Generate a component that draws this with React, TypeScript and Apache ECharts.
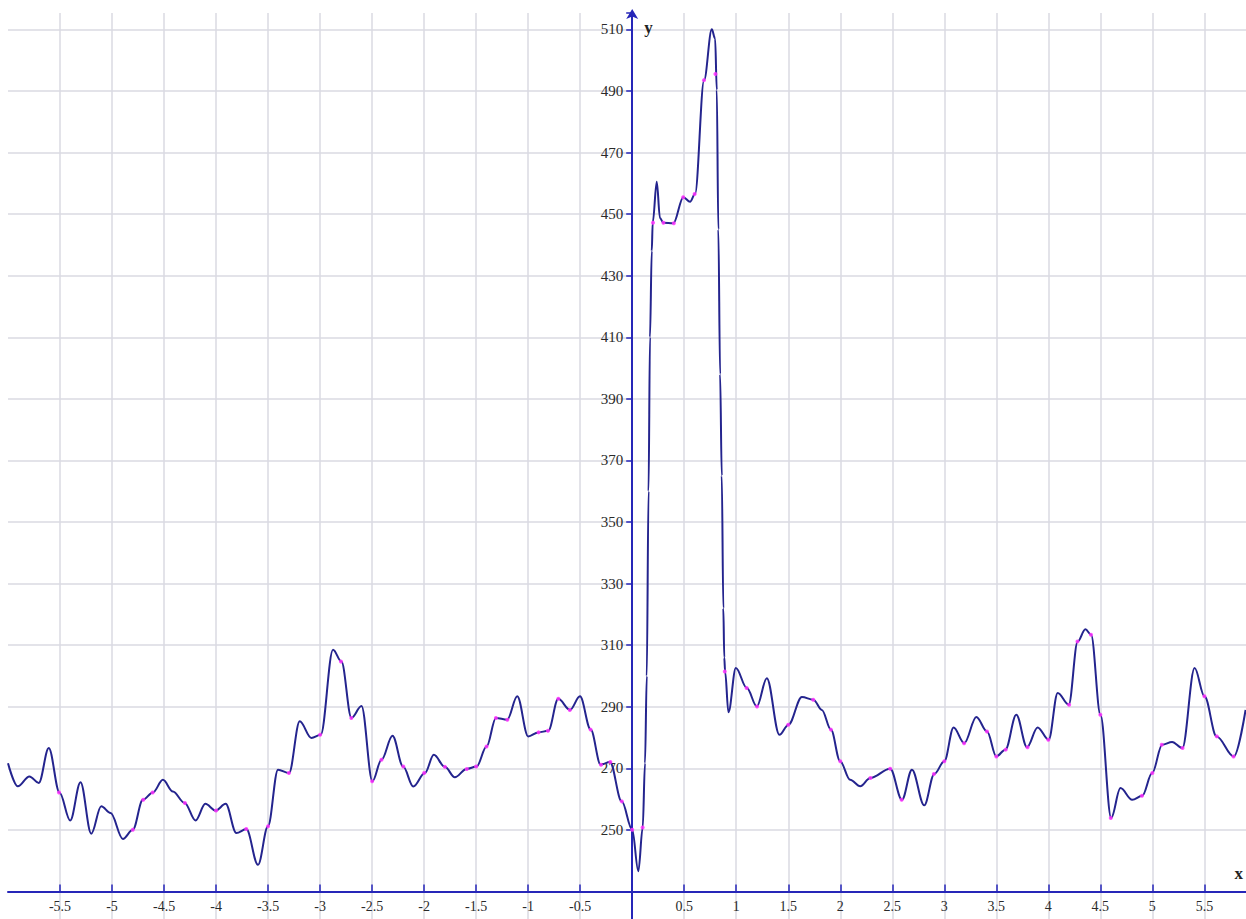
import { useEffect, useRef } from "react";
import * as echarts from "echarts";

// Traced curve (x, y): smooth path through the sampled signal, including its overshoots
const curveX = [
  -6.0, -5.906, -5.794, -5.704, -5.608, -5.505, -5.402, -5.303, -5.2, -5.104, -5.014,
  -4.896, -4.8, -4.704, -4.607, -4.511, -4.415, -4.302, -4.197, -4.103, -4.004, -3.908,
  -3.805, -3.709, -3.597, -3.501, -3.405, -3.299, -3.196, -3.084, -2.994, -2.876, -2.795,
  -2.699, -2.602, -2.497, -2.41, -2.304, -2.202, -2.104, -1.993, -1.907, -1.8, -1.705,
  -1.592, -1.496, -1.4, -1.31, -1.202, -1.105, -1.0, -0.903, -0.807, -0.711, -0.598,
  -0.502, -0.399, -0.303, -0.214, -0.101, 0.0, 0.059, 0.101, 0.123, 0.14, 0.157, 0.171,
  0.188, 0.197, 0.236, 0.267, 0.299, 0.395, 0.492, 0.556, 0.604, 0.691, 0.765, 0.797,
  0.813, 0.828, 0.845, 0.861, 0.876, 0.885, 0.893, 0.925, 0.996, 1.102, 1.198, 1.294,
  1.415, 1.502, 1.631, 1.742, 1.823, 1.91, 1.999, 2.095, 2.192, 2.288, 2.48, 2.593,
  2.689, 2.807, 2.904, 3.0, 3.089, 3.192, 3.308, 3.411, 3.5, 3.587, 3.692, 3.795, 3.897,
  4.003, 4.09, 4.196, 4.282, 4.356, 4.411, 4.501, 4.604, 4.693, 4.806, 4.902, 4.998,
  5.094, 5.19, 5.288, 5.406, 5.501, 5.617, 5.783, 5.896,
];
const curveY = [
  271.7, 264.2, 267.4, 265.3, 276.6, 262.2, 253.1, 265.5, 248.8, 257.7, 255.5,
  247.1, 250.1, 259.8, 262.2, 266.3, 262.5, 258.8, 253.1, 258.5, 256.3, 258.5,
  249.0, 250.3, 238.7, 251.2, 269.6, 268.5, 285.3, 279.9, 280.9, 308.5, 304.7,
  286.4, 290.3, 265.8, 272.8, 280.6, 270.6, 264.1, 268.5, 274.4, 270.5, 267.1,
  269.8, 270.6, 277.1, 286.4, 285.8, 293.4, 280.4, 281.7, 282.2, 292.6, 289.0,
  293.4, 282.6, 271.2, 272.1, 259.3, 250.1, 236.6, 250.8, 271.7, 300.0, 360.0, 410.0,
  438.0, 447.2, 460.5, 448.7, 447.2, 447.0, 455.5, 454.0, 456.5, 493.5, 510.0, 507.0,
  490.3, 445.0, 398.0, 365.0, 322.0, 306.0, 301.5, 288.2, 302.6, 296.1, 290.1, 299.3,
  280.9, 284.2, 293.2, 292.3, 289.0, 282.6, 272.3, 266.3, 264.2, 266.9, 269.9, 259.8,
  269.6, 258.0, 268.2, 272.3, 283.3, 278.2, 286.7, 282.0, 273.9, 276.1, 287.4, 276.9, 283.3,
  279.3, 294.5, 290.7, 311.2, 315.2, 313.4, 287.4, 253.9, 263.6, 259.8, 261.1, 268.5,
  277.7, 278.6, 276.6, 302.6, 293.4, 280.4, 273.9, 289.0,
];

// Measured samples (magenta dots)
const sampleX = [
  -5.51, -4.8, -4.7, -4.61, -4.3, -4.0, -3.71, -3.5, -3.3, -3.0, -2.8, -2.7, -2.5, -2.41,
  -2.2, -2.0, -1.8, -1.59, -1.5, -1.4, -1.31, -1.2, -0.9, -0.81, -0.71, -0.6, -0.4, -0.3,
  -0.21, -0.1, 0.0, 0.1, 0.2, 0.3, 0.4, 0.49, 0.6, 0.69, 0.8, 0.89, 1.1, 1.2, 1.5, 1.74,
  1.91, 2.0, 2.29, 2.48, 2.59, 2.9, 3.0, 3.19, 3.41, 3.5, 3.59, 3.8, 4.0, 4.2, 4.28, 4.41,
  4.5, 4.6, 4.9, 5.0, 5.09, 5.29, 5.5, 5.62, 5.78,
];
const sampleY = [
  262.2, 250.1, 259.8, 262.2, 258.8, 256.3, 250.3, 251.2, 268.5, 280.9, 304.7, 286.4, 265.8, 272.8,
  270.6, 268.5, 270.5, 269.8, 270.6, 277.1, 286.4, 285.8, 281.7, 282.2, 292.6, 289.0, 282.6, 271.2,
  272.1, 259.3, 250.1, 250.8, 447.2, 447.2, 447.0, 455.5, 456.5, 493.5, 495.5, 301.5, 296.1, 290.1, 284.2, 292.3,
  282.6, 272.3, 266.9, 269.9, 259.8, 268.2, 272.3, 278.2, 282.0, 273.9, 276.1, 276.9, 279.3, 290.7, 311.2, 313.4,
  287.4, 253.9, 261.1, 268.5, 277.7, 276.6, 293.4, 280.4, 273.9,
];

// Axis ranges and tick spacing
const xRange = [-6, 5.9];
const xStep = 0.5;
const yRange = [210, 515.3];
const yStep = 20;
const xAxisCrossing = 230; // the x axis is drawn at y = 230
const yAxisCrossing = 0; // the y axis is drawn at x = 0
const yLabelRange = [250, 510];

const AXIS_BLUE = "#2626b8";
const CURVE_BLUE = "#24248e";
const GRID_GRAY = "#dadae2";
const FONT = "'Liberation Serif', 'Times New Roman', serif";

export default function App() {
  const ref = useRef<HTMLDivElement>(null);

  useEffect(() => {
    if (!ref.current) return;
    const chart = echarts.init(ref.current, undefined, { renderer: "svg" });

    const width = 1246;
    const height = 919;
    const gridTop = 13;
    const gridLeft = 8;
    const gridRight = 0;
    // the visible plot ends at the page bottom (y ≈ 221) while the axis minimum sits below it
    const visibleBottomValue = 221.1;
    const fullH = (height - gridTop) * (yRange[1] - yRange[0]) / (yRange[1] - visibleBottomValue);
    const gridBottom = height - gridTop - fullH;
    const pxPerY = fullH / (yRange[1] - yRange[0]);
    const pxPerX = (width - gridLeft - gridRight) / (xRange[1] - xRange[0]);
    // shift each axis from the grid edge to where it crosses the other one
    const xAxisOffset = -(xAxisCrossing - yRange[0]) * pxPerY;
    const yAxisOffset = -(yAxisCrossing - xRange[0]) * pxPerX;

    const curve = curveX.map((x, i) => [x, curveY[i]]);
    const samples = sampleX.map((x, i) => [x, sampleY[i]]);

    chart.setOption({
      animation: false,
      backgroundColor: "#ffffff",
      grid: {
        left: gridLeft,
        right: gridRight,
        top: gridTop,
        bottom: gridBottom,
        containLabel: false,
        outerBoundsMode: "none",
      },
      xAxis: {
        type: "value",
        min: xRange[0],
        max: xRange[1],
        interval: xStep,
        position: "bottom",
        offset: xAxisOffset,
        axisLine: {
          onZero: false,
          lineStyle: { color: AXIS_BLUE, width: 2 },
        },
        axisTick: { show: true, inside: true, length: 7, lineStyle: { color: AXIS_BLUE, width: 1.5 } },
        axisLabel: {
          showMinLabel: false,
          showMaxLabel: false,
          margin: 8,
          color: "#2a2a2a",
          fontFamily: FONT,
          fontSize: 14,
          formatter: (v: number) => (Math.abs(v) < 1e-9 ? "" : String(v)),
        },
        splitLine: {
          show: true,
          showMinLine: false,
          showMaxLine: false,
          lineStyle: { color: GRID_GRAY, width: 1.5 },
        },
      },
      yAxis: {
        type: "value",
        min: yRange[0],
        max: yRange[1],
        interval: yStep,
        position: "left",
        offset: yAxisOffset,
        axisLine: {
          onZero: false,
          lineStyle: { color: AXIS_BLUE, width: 2 },
          symbol: ["none", "arrow"],
          symbolSize: [9, 10],
          symbolOffset: [0, 4],
        },
        axisTick: { show: true, length: 6, lineStyle: { color: AXIS_BLUE, width: 1.5 } },
        axisLabel: {
          margin: 9,
          color: "#2a2a2a",
          fontFamily: FONT,
          fontSize: 15,
          formatter: (v: number) =>
            v >= yLabelRange[0] && v <= yLabelRange[1] ? String(v) : "",
        },
        splitLine: {
          show: true,
          showMinLine: false,
          showMaxLine: false,
          lineStyle: { color: GRID_GRAY, width: 1.5 },
        },
      },
      series: [
        {
          name: "signal",
          type: "line",
          data: curve,
          smooth: 0.35,
          smoothMonotone: "x",
          showSymbol: false,
          symbol: "none",
          lineStyle: { color: CURVE_BLUE, width: 2 },
          z: 3,
        },
        {
          name: "samples",
          type: "scatter",
          data: samples,
          symbol: "circle",
          symbolSize: 4,
          itemStyle: { color: "#ff33ff", opacity: 0.85 },
          z: 4,
        },
      ],
    });

    // Axis letters placed next to the axis ends
    const yPos = chart.convertToPixel({ xAxisIndex: 0, yAxisIndex: 0 }, [yAxisCrossing, 510]) as number[];
    const xPos = chart.convertToPixel({ xAxisIndex: 0, yAxisIndex: 0 }, [xRange[1], xAxisCrossing]) as number[];
    chart.setOption({
      graphic: [
        {
          type: "text",
          x: yPos[0] + 12,
          y: yPos[1] - 2,
          style: {
            text: "y",
            fill: "#222222",
            font: `bold 17px ${FONT}`,
            verticalAlign: "middle",
            align: "left",
          },
          z: 10,
        },
        {
          type: "text",
          x: xPos[0] - 3,
          y: xPos[1] - 18,
          style: {
            text: "x",
            fill: "#222222",
            font: `bold 17px ${FONT}`,
            verticalAlign: "middle",
            align: "right",
          },
          z: 10,
        },
      ],
    });

    return () => chart.dispose();
  }, []);

  return (
    <div
      ref={ref}
      style={{ position: "fixed", left: 0, top: 0, width: 1246, height: 919, background: "#ffffff" }}
    />
  );
}
